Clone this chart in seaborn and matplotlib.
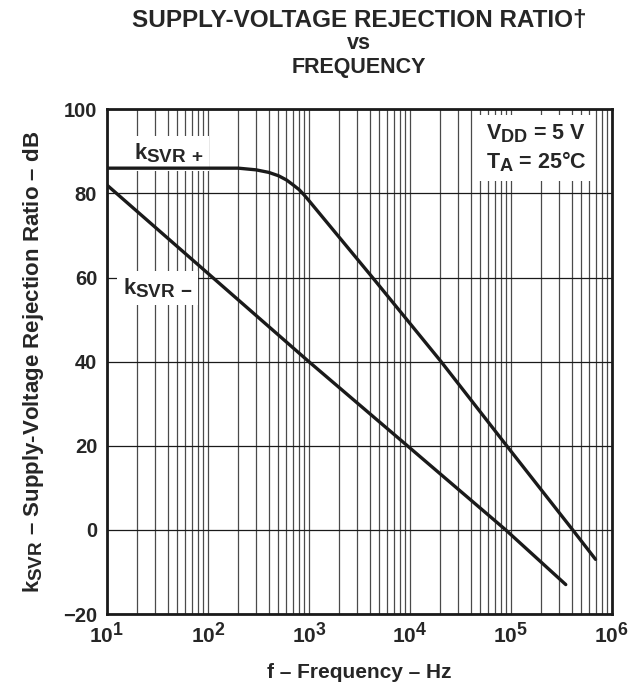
import pandas as pd
import seaborn as sns
import matplotlib.pyplot as plt
import matplotlib._mathtext as mathtext_mod
from matplotlib.ticker import FixedLocator, NullFormatter

# Werte
freq_pos = [10, 100, 200, 300, 400, 500, 600, 700, 800, 900, 1000,
            4270, 20400, 91000, 410000, 690000]
ksvr_pos = [86, 86, 86, 85.6, 85.0, 84.2, 83.2, 82.0, 80.9, 79.6, 78.3,
            60, 40, 20, 0, -7]
freq_neg = [10, 100, 1000, 10000, 89000, 350000]
ksvr_neg = [82, 61, 40, 19.5, 0, -13]

x_ticks = [10, 100, 1000, 10000, 100000, 1000000]
x_labels = [r'$10^{1}$', r'$10^{2}$', r'$10^{3}$', r'$10^{4}$', r'$10^{5}$', r'$10^{6}$']
y_ticks = [-20, 0, 20, 40, 60, 80, 100]

df = pd.concat([
    pd.DataFrame({'f': freq_pos, 'k': ksvr_pos, 'serie': 'kSVR+'}),
    pd.DataFrame({'f': freq_neg, 'k': ksvr_neg, 'serie': 'kSVR-'}),
])

sns.set_style('white')
plt.rcParams['font.family'] = ['Liberation Sans', 'DejaVu Sans']
plt.rcParams['font.weight'] = 'bold'
plt.rcParams['mathtext.fontset'] = 'custom'
plt.rcParams['mathtext.rm'] = 'Liberation Sans:bold'
plt.rcParams['mathtext.it'] = 'Liberation Sans:bold'
plt.rcParams['mathtext.bf'] = 'Liberation Sans:bold'
# Indizes im Original fast so gross wie der Grundtext
mathtext_mod.SHRINK_FACTOR = 0.85

fig = plt.figure(figsize=(6.44, 6.83), dpi=100)
ax = fig.add_axes([0.166, 0.101, 0.784, 0.739])

sns.lineplot(data=df, x='f', y='k', hue='serie', palette=['#1a1a1a', '#1a1a1a'],
             linewidth=2.4, legend=False, ax=ax, zorder=4, sort=False)

ax.set_xscale('log')
ax.set_xlim(10, 1e6)
ax.set_ylim(-20, 100)
ax.xaxis.set_major_locator(FixedLocator(x_ticks))
ax.set_xticklabels(x_labels)
ax.xaxis.set_minor_locator(FixedLocator([m * 10 ** e for e in range(1, 6) for m in range(2, 10)]))
ax.xaxis.set_minor_formatter(NullFormatter())
ax.set_yticks(y_ticks)
ax.tick_params(which='both', length=0)
ax.tick_params(axis='x', labelsize=15, pad=5)
ax.tick_params(axis='y', labelsize=14.5, pad=7)
for lab in ax.get_yticklabels():
    lab.set_fontweight('bold')

ax.grid(which='both', axis='x', color='#4a4a4a', linewidth=0.9)
ax.grid(which='major', axis='y', color='#1a1a1a', linewidth=0.9)
for s in ax.spines.values():
    s.set_color('#1a1a1a')
    s.set_linewidth(2)

# Titel: erste Zeile im Original breiter gesetzt
ax.text(0.5, 1.176, 'SUPPLY-VOLTAGE REJECTION RATIO\u2020', transform=ax.transAxes,
        fontsize=17.5, fontweight='bold', ha='center', va='center')
ax.text(0.5, 1.131, 'vs', transform=ax.transAxes,
        fontsize=15.5, fontweight='bold', ha='center', va='center')
ax.text(0.5, 1.083, 'FREQUENCY', transform=ax.transAxes,
        fontsize=15.5, fontweight='bold', ha='center', va='center')

ax.set_xlabel('f \u2013 Frequency \u2013 Hz', fontsize=15, fontweight='bold', labelpad=12)
ax.set_ylabel(r'$k_{SVR}$' + ' \u2013 Supply-Voltage Rejection Ratio \u2013 dB',
              fontsize=16, fontweight='bold', labelpad=12)

box = dict(facecolor='white', edgecolor='none', pad=4)
ax.text(18.5, 89.5, r'$k_{SVR\,+}$', fontsize=16, va='center', ha='left', bbox=box, zorder=3)
ax.text(14.4, 57.5, r'$k_{SVR\,-}$', fontsize=16, va='center', ha='left', bbox=box, zorder=3)
ax.text(5.7e4, 90.8, r'$V_{DD}$ = 5 V' + '\n' + r'$T_{A}$ = 25°C', fontsize=15.5,
        va='center', ha='left', bbox=dict(facecolor='white', edgecolor='none', pad=5),
        linespacing=1.25, zorder=3)

fig.savefig('out.png', dpi=100)
